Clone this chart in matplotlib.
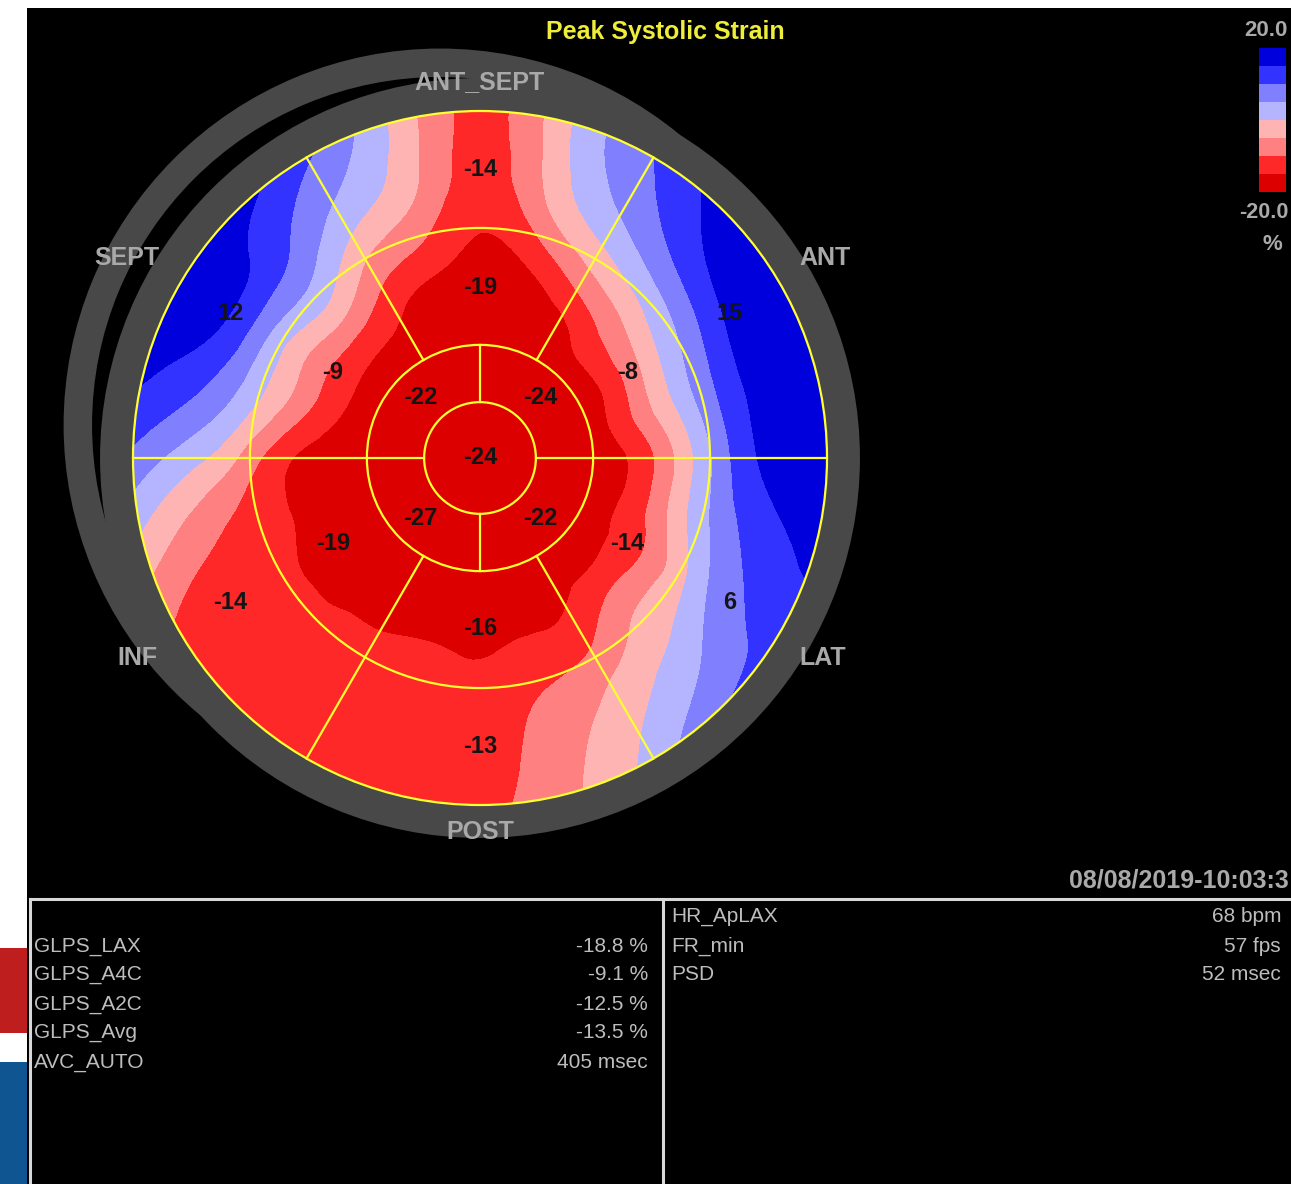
import matplotlib
matplotlib.use("Agg")
import matplotlib.pyplot as plt
import matplotlib.tri as mtri
from matplotlib.patches import Circle, Wedge, Rectangle
import numpy as np

plt.rcParams['font.family'] = ['Liberation Sans', 'DejaVu Sans']

# ---------------- data ----------------
title = 'Peak Systolic Strain'
walls = ['ANT_SEPT', 'ANT', 'LAT', 'POST', 'INF', 'SEPT']
wall_angles = [90, 30, -30, -90, 210, 150]
basal = [-14, 15, 6, -13, -14, 12]
mid = [-19, -8, -14, -16, -19, -9]
apical_angles = [45, 135, 225, 315]
apical = [-24, -22, -27, -22]
apex = -24

# strain (%) on a polar grid
# rows: angle in degrees (0 = lateral side, counter clockwise), cols: radius / LV radius
grid_angles = list(range(0, 360, 15))
grid_radii = [0.2, 0.4, 0.55, 0.7, 0.85, 1.0]
grid_values = [
    [-21, -16, -6, 8, 17, 18],          # 0
    [-22, -14, -2.5, 9.5, 17.5, 18],    # 15
    [-22, -15, -3.5, 7.5, 17, 18.5],    # 30
    [-22, -15, -6.5, 4, 13, 17.5],      # 45
    [-22, -18, -10.5, -0.5, 6.5, 10],   # 60
    [-22, -19, -15.5, -7.5, -2.5, -0.5],  # 75
    [-22, -19, -17, -14, -12, -11.5],   # 90
    [-22, -19, -14.5, -7.5, -2.5, -0.5],  # 105
    [-22, -17, -11, -2.5, 5, 11],       # 120
    [-22, -16, -6, 5, 12.5, 17],        # 135
    [-22, -15.5, -7, 4.5, 16, 18],      # 150
    [-22, -16, -7.5, 3, 11.5, 16],      # 165
    [-22, -18, -14.5, -5, 2.5, 9],      # 180
    [-22, -18, -15.5, -11.5, -7.5, -1.5],  # 195
    [-22, -19, -16.5, -13, -12.5, -10.5],  # 210
    [-22, -19, -16, -14, -13, -12],     # 225
    [-22, -18, -15.5, -13, -13, -12.5],  # 240
    [-22, -18.5, -15, -13, -13, -12.5],  # 255
    [-22, -18, -15.5, -13, -12.5, -11.5],  # 270
    [-22, -18, -14.5, -10, -7.5, -6],   # 285
    [-21, -17, -13.5, -7, -2, 2],       # 300
    [-21, -17, -9, -2.5, 3.5, 10],      # 315
    [-21, -16, -9.5, 1, 9, 12.5],       # 330
    [-21, -16, -6, 6, 13, 16.5],        # 345
]

levels = [-40, -15, -10, -5, 0, 5, 10, 15, 40]
band_colors = ['#dc0000', '#ff2828', '#ff8080', '#ffb4b4',
               '#b4b4ff', '#8080ff', '#3333ff', '#0000dc']

left_names = ['GLPS_LAX', 'GLPS_A4C', 'GLPS_A2C', 'GLPS_Avg', 'AVC_AUTO']
left_vals = ['-18.8 %', '-9.1 %', '-12.5 %', '-13.5 %', '405 msec']
right_names = ['HR_ApLAX', 'FR_min', 'PSD']
right_vals = ['68 bpm', '57 fps', '52 msec']
timestamp = '08/08/2019-10:03:3'

# ---------------- layout ----------------
W, H = 1291, 1184
cx, cy, R = 480, 458, 347   # bullseye centre / radius in pixels
ext = 1.25
ring_r = [1.0, 0.663, 0.326, 0.161]
yellow = '#ffff30'
grey_txt = '#a9a9a9'

fig = plt.figure(figsize=(W / 100, H / 100), dpi=100, facecolor='white')

bg = fig.add_axes([0, 0, 1, 1])
bg.set_xlim(0, W)
bg.set_ylim(H, 0)
bg.axis('off')
bg.add_patch(Rectangle((27, 8), W - 27, H - 8, fc='black', ec='none'))
bg.add_patch(Rectangle((0, 948), 27, 85, fc='#be1e1e', ec='none'))
bg.add_patch(Rectangle((0, 1062), 27, 130, fc='#0f5591', ec='none'))

# bottom info panels
lc = '#d8d8d8'
bg.plot([30, W], [899, 899], color=lc, lw=2.2)
bg.plot([30, 30], [899, H], color=lc, lw=2.2)
bg.plot([663, 663], [899, H], color=lc, lw=2.2)
for i, (n, v) in enumerate(zip(left_names, left_vals)):
    y = 946 + 29 * i
    bg.text(34, y, n, color='#bdbdbd', fontsize=15, ha='left', va='center')
    bg.text(648, y, v, color='#bdbdbd', fontsize=15, ha='right', va='center')
for i, (n, v) in enumerate(zip(right_names, right_vals)):
    y = 917 + 29 * i
    bg.text(671, y, n, color='#bdbdbd', fontsize=15, ha='left', va='center')
    bg.text(1281, y, v, color='#bdbdbd', fontsize=15, ha='right', va='center')

bg.text(1289, 880, timestamp, color=grey_txt, fontsize=18, fontweight='bold',
        ha='right', va='center')
bg.text(665, 32, title, color='#eeee3a', fontsize=18, fontweight='bold',
        ha='center', va='center')

# colour scale labels
bg.text(1288, 31, '20.0', color=grey_txt, fontsize=16, fontweight='bold', ha='right', va='center')
bg.text(1289, 213, '-20.0', color=grey_txt, fontsize=15.5, fontweight='bold', ha='right', va='center')
bg.text(1272, 244, '%', color=grey_txt, fontsize=16, fontweight='bold', ha='center', va='center')

# ---------------- bullseye ----------------
half = ext * R
ax = fig.add_axes([(cx - half) / W, (H - cy - half) / H, 2 * half / W, 2 * half / H])
ax.set_xlim(-ext, ext)
ax.set_ylim(-ext, ext)
ax.axis('off')

grey = '#484848'
ax.add_patch(Wedge((-0.115, 0.095), 1.085, 0, 360, width=0.082, fc=grey, ec='none', zorder=1))
ax.add_patch(Circle((0, 0), 1.095, fc=grey, ec='none', zorder=2))

ang = np.deg2rad(grid_angles)
vals = np.array(grid_values, dtype=float)
radii = np.array(grid_radii)
radii[-1] = radii[-1] / np.cos(np.pi / len(grid_angles))   # rim ring encloses the circle
xs = [0.0]
ys = [0.0]
zs = [apex]
for i, a in enumerate(ang):
    for j, r in enumerate(radii):
        xs.append(r * np.cos(a))
        ys.append(r * np.sin(a))
        zs.append(vals[i, j])
tri = mtri.Triangulation(xs, ys)
tri_f, z_f = mtri.UniformTriRefiner(tri).refine_field(np.array(zs), subdiv=3)
cs = ax.tricontourf(tri_f, z_f, levels=levels, colors=band_colors, zorder=3)
cs.set_clip_path(Circle((0, 0), 1.0, transform=ax.transData))

# segment borders
for r in ring_r:
    ax.add_patch(Circle((0, 0), r, fill=False, ec=yellow, lw=1.6, zorder=4))
for a in [60, 120, 240, 300]:
    t = np.deg2rad(a)
    ax.plot([ring_r[2] * np.cos(t), np.cos(t)], [ring_r[2] * np.sin(t), np.sin(t)],
            color=yellow, lw=1.6, zorder=4)
ax.plot([-1, -ring_r[3]], [0, 0], color=yellow, lw=1.6, zorder=4)
ax.plot([ring_r[3], 1], [0, 0], color=yellow, lw=1.6, zorder=4)
ax.plot([0, 0], [ring_r[3], ring_r[2]], color=yellow, lw=1.6, zorder=4)
ax.plot([0, 0], [-ring_r[2], -ring_r[3]], color=yellow, lw=1.6, zorder=4)

# segment values
kw = dict(ha='center', va='center', fontsize=17, fontweight='bold', color='#141414', zorder=5)
for a, vb, vm in zip(wall_angles, basal, mid):
    t = np.deg2rad(a)
    ax.text(0.83 * np.cos(t), 0.83 * np.sin(t), str(vb), **kw)
    ax.text(0.49 * np.cos(t), 0.49 * np.sin(t), str(vm), **kw)
for a, v in zip(apical_angles, apical):
    t = np.deg2rad(a)
    ax.text(0.245 * np.cos(t), 0.245 * np.sin(t), str(v), **kw)
ax.text(0, 0, str(apex), **kw)

# wall names on the grey ring
wall_pos = {'ANT_SEPT': (0, 1.083), 'ANT': (0.994, 0.576), 'LAT': (0.988, -0.576),
            'POST': (0, -1.078), 'INF': (-0.986, -0.576), 'SEPT': (-1.017, 0.576)}
for w in walls:
    px, py = wall_pos[w]
    ax.text(px, py, w, ha='center', va='center', fontsize=18, fontweight='bold',
            color=grey_txt, zorder=5)

cax = fig.add_axes([1259 / W, (H - 192) / H, 27 / W, 144 / H])
cb = fig.colorbar(cs, cax=cax)
cb.set_ticks([])
cb.outline.set_visible(False)

fig.savefig('out.png', dpi=100, facecolor='white')
